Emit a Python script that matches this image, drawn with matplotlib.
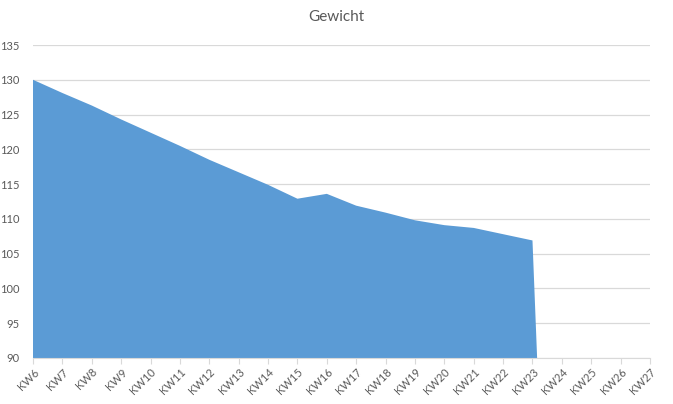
import matplotlib
matplotlib.use('Agg')
import matplotlib.pyplot as plt
import numpy as np

# Data: weekly weight, empty weeks are plotted as zero (like the original)
weeks = ['KW%d' % w for w in range(6, 28)]
gewicht = [130.0, 128.1, 126.3, 124.3, 122.4, 120.5, 118.5, 116.7, 114.9,
           112.9, 113.6, 111.9, 110.9, 109.8, 109.1, 108.7, 107.8, 106.9,
           0, 0, 0, 0]

plt.rcParams['font.family'] = ['Lato', 'DejaVu Sans']

fig = plt.figure(figsize=(6.73, 4.04), dpi=100)
ax = fig.add_axes([33 / 673, 46 / 404, 617 / 673, 313 / 404])

x = np.arange(len(weeks))
ax.fill_between(x, gewicht, 0, color='#5B9BD5', linewidth=0, zorder=2)

ax.set_xlim(0, len(weeks) - 1)
ax.set_ylim(90, 135)
ax.set_yticks(range(90, 136, 5))
ax.grid(axis='y', color='#D9D9D9', linewidth=0.9, zorder=0)
ax.set_axisbelow(True)

for s in ['top', 'right', 'left']:
    ax.spines[s].set_visible(False)
ax.spines['bottom'].set_color('#D9D9D9')
ax.spines['bottom'].set_zorder(3)

ax.set_xticks(x)
ax.set_xticklabels(weeks, rotation=45, ha='right', rotation_mode='anchor')
ax.tick_params(axis='x', colors='#D9D9D9', length=4, labelcolor='#595959',
               labelsize=8, pad=2)
ax.tick_params(axis='y', length=0, labelcolor='#595959', labelsize=8, pad=10)

fig.text(0.5, 1 - 17 / 404, 'Gewicht', ha='center', va='center',
         fontsize=11, color='#595959')

plt.savefig('out.png', dpi=100)
